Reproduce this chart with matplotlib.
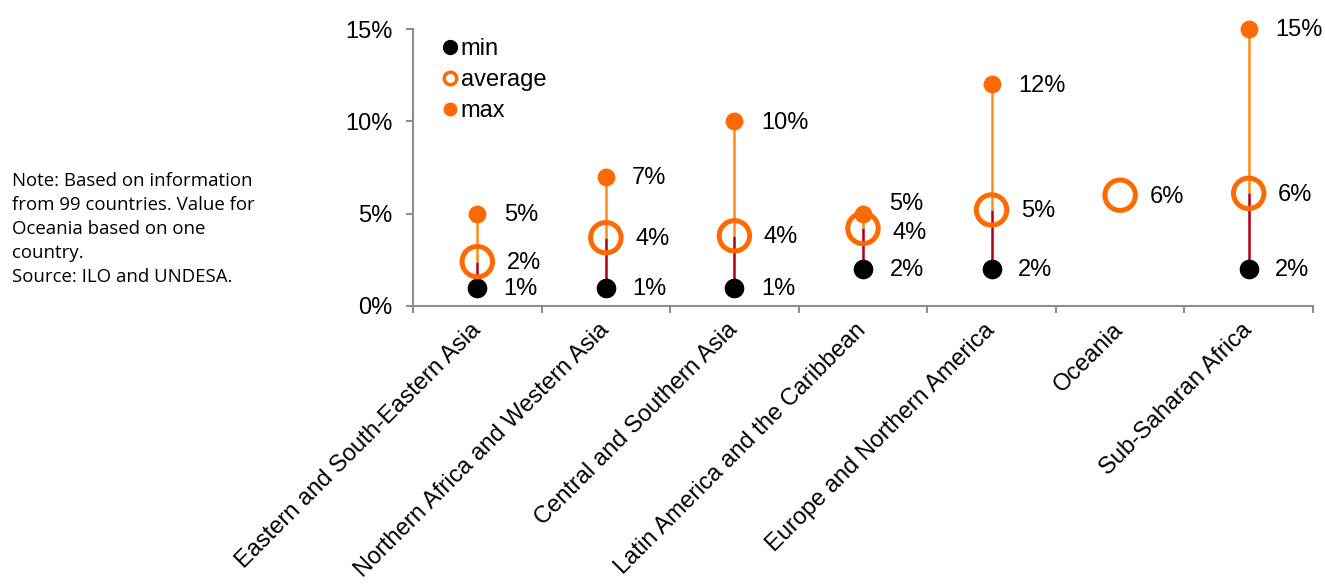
import matplotlib

matplotlib.use("Agg")

import matplotlib.pyplot as plt  # noqa: E402
import numpy as np  # noqa: E402
from matplotlib.lines import Line2D  # noqa: E402

regions = [
    "Eastern and South-Eastern Asia",
    "Northern Africa and Western Asia",
    "Central and Southern Asia",
    "Latin America and the Caribbean",
    "Europe and Northern America",
    "Oceania",
    "Sub-Saharan Africa",
]
min_vals = [1.0, 1.0, 1.0, 2.0, 2.0, np.nan, 2.0]
avg_vals = [2.4, 3.7, 3.8, 4.2, 5.2, 6.0, 6.1]
max_vals = [5.0, 7.0, 10.0, 5.0, 12.0, np.nan, 15.0]
y_ticks = [0, 5, 10, 15]
note = ("Note: Based on information\nfrom 99 countries. Value for\n"
        "Oceania based on one\ncountry.\nSource: ILO and UNDESA.")

ORANGE = "#FF6A00"
LINE_UP = "#FF8A1A"
LINE_LOW = "#B00010"
GREY = "#8C8C8C"

plt.rcParams["font.family"] = ["Liberation Sans", "DejaVu Sans"]

fig = plt.figure(figsize=(13.25, 5.85), dpi=100)
ax = fig.add_axes([413 / 1325, 1 - 306 / 585, 900 / 1325, 277 / 585])

x = np.arange(len(regions))
for xi, lo, av, hi in zip(x, min_vals, avg_vals, max_vals):
    if np.isnan(lo) or np.isnan(hi):
        continue
    ax.plot([xi, xi], [lo, av], color=LINE_LOW, lw=1.8, zorder=1, solid_capstyle="butt")
    ax.plot([xi, xi], [av, hi], color=LINE_UP, lw=1.8, zorder=1, solid_capstyle="butt")

ax.scatter(x, min_vals, s=200, color="black", zorder=3, linewidths=0, clip_on=False)
ax.scatter(x, avg_vals, s=480, facecolors="none", edgecolors=ORANGE,
           linewidths=3.6, zorder=4, clip_on=False)
ax.scatter(x, max_vals, s=165, color=ORANGE, zorder=5, linewidths=0, clip_on=False)

# data labels to the right of each marker (dy nudges overlapping ones)
label_dy = {(3, "max"): 8, (3, "avg"): -2}
for i in x:
    for key, vals, dx in (("min", min_vals, 19), ("avg", avg_vals, 21), ("max", max_vals, 19)):
        v = vals[i]
        if np.isnan(v):
            continue
        ax.annotate(f"{v:.0f}%", (i, v), xytext=(dx, label_dy.get((i, key), 0) - 1),
                    textcoords="offset points", ha="left", va="center", fontsize=17)

ax.set_xlim(-0.5, len(regions) - 0.5)
ax.set_ylim(0, 15)
ax.set_yticks(y_ticks)
ax.set_yticklabels([f"{t}%" for t in y_ticks], fontsize=17)
ax.set_xticks(x)
ax.set_xticklabels(regions, rotation=45, ha="right", va="center",
                   rotation_mode="anchor", fontsize=17)
ax.set_xticks(np.arange(len(regions) + 1) - 0.5, minor=True)
ax.tick_params(axis="x", which="major", length=0, pad=15)
ax.tick_params(axis="x", which="minor", length=5, color=GREY, width=1.5)
ax.tick_params(axis="y", length=5, color=GREY, width=1.5, pad=10)
for side in ("top", "right"):
    ax.spines[side].set_visible(False)
for side in ("left", "bottom"):
    ax.spines[side].set_color(GREY)
    ax.spines[side].set_linewidth(1.5)

handles = [
    Line2D([], [], ls="none", marker="o", ms=10, color="black", label="min"),
    Line2D([], [], ls="none", marker="o", ms=9, mfc="white", mec=ORANGE, mew=2.5,
           label="average"),
    Line2D([], [], ls="none", marker="o", ms=9, color=ORANGE, mec=ORANGE, label="max"),
]
ax.legend(handles=handles, loc="upper left", bbox_to_anchor=(0.023, 1.0), frameon=False,
          fontsize=17, handlelength=0.6, handletextpad=0.15, labelspacing=0.38,
          borderaxespad=0)

fig.text(12 / 1325, 1 - 172 / 585, note, ha="left", va="top", fontsize=13.4,
         family=["Open Sans", "DejaVu Sans"], linespacing=1.42)

fig.savefig("out.png", dpi=100)
plt.close(fig)
